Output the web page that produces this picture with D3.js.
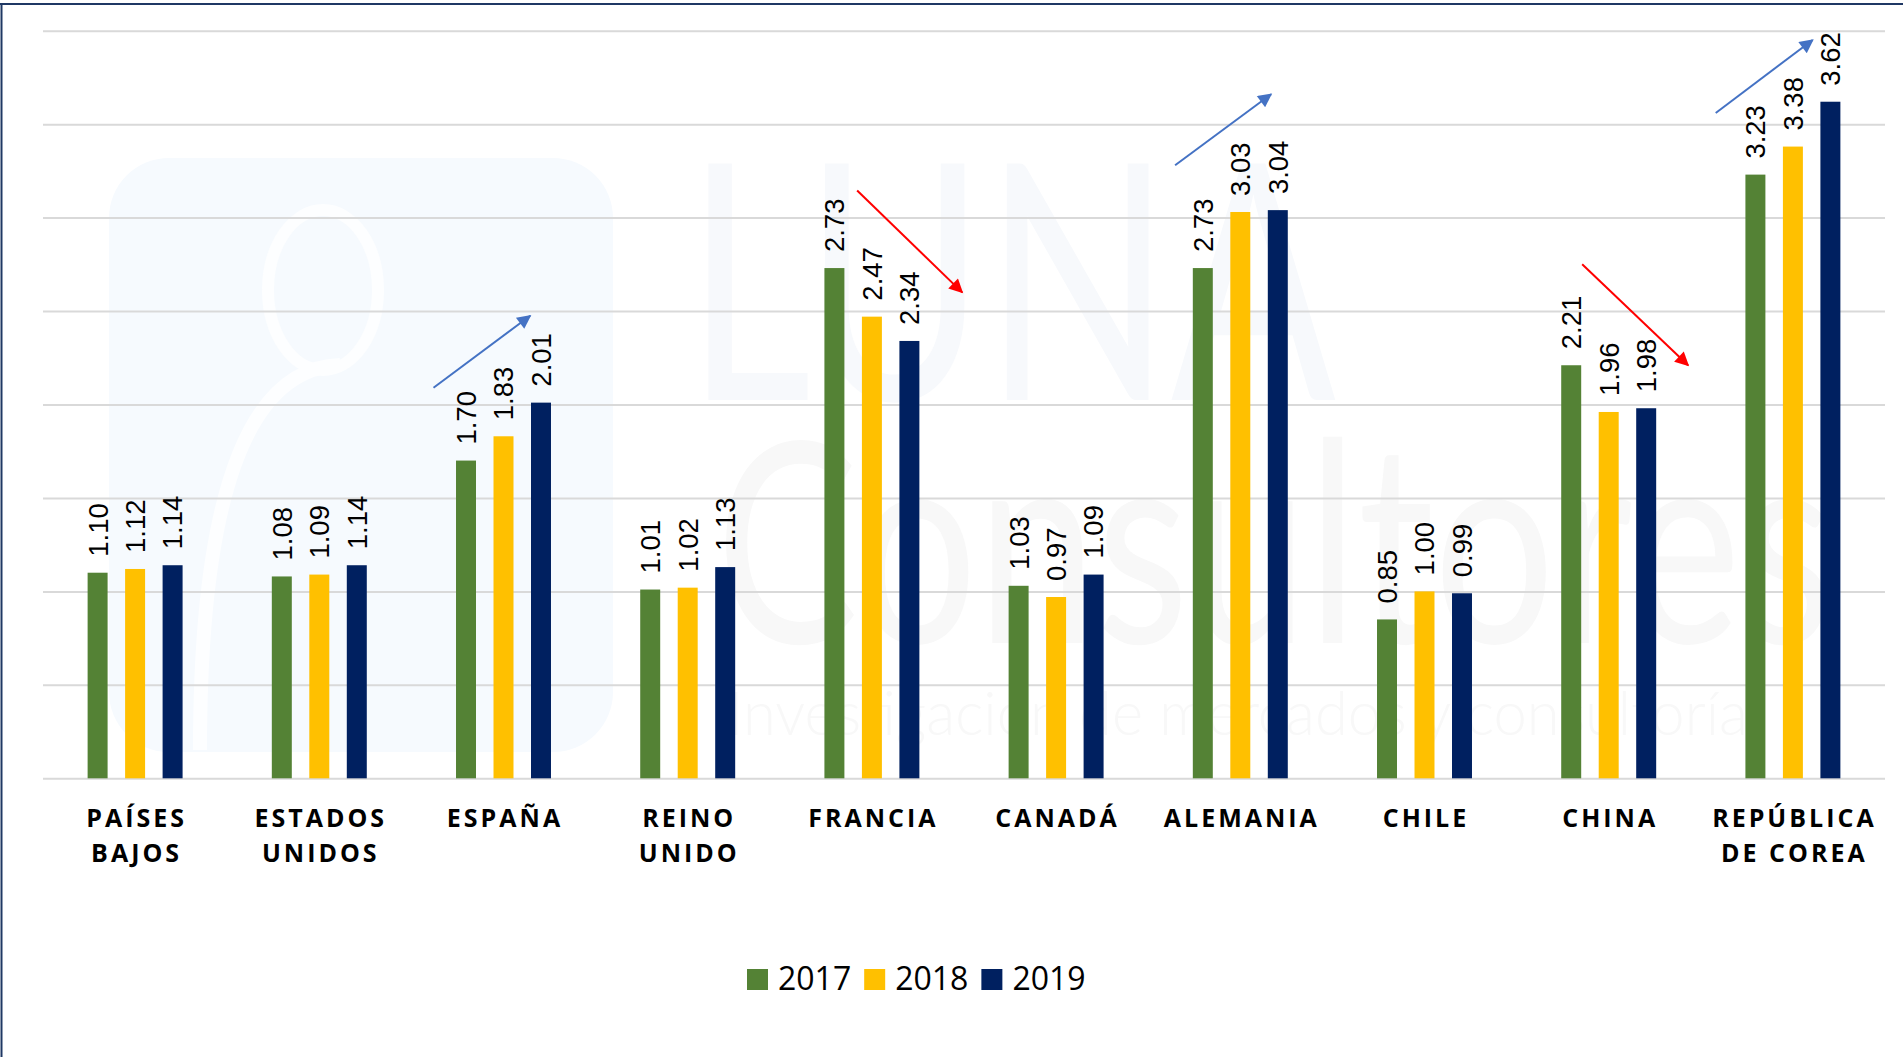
<!DOCTYPE html>
<html>
<head>
<meta charset="utf-8">
<script src="https://cdn.jsdelivr.net/npm/d3@7"></script>
<style>
	html, body { margin: 0; padding: 0; background: #fff; }
	svg { display: block; }
</style>
</head>
<body>
<div id="chart"></div>
<script>
//categories, two lines each
const CATEGORIES = ['PAÍSES BAJOS','ESTADOS UNIDOS','ESPAÑA','REINO UNIDO','FRANCIA','CANADÁ','ALEMANIA','CHILE','CHINA','REPÚBLICA DE COREA'];
const CATEGORY_LINES = [['PAÍSES','BAJOS'],['ESTADOS','UNIDOS'],['ESPAÑA'],['REINO','UNIDO'],['FRANCIA'],['CANADÁ'],['ALEMANIA'],['CHILE'],['CHINA'],['REPÚBLICA','DE COREA']];

//series values
const YEARS = ['2017','2018','2019'];
const VALUES_2017 = [1.10,1.08,1.70,1.01,2.73,1.03,2.73,0.85,2.21,3.23];
const VALUES_2018 = [1.12,1.09,1.83,1.02,2.47,0.97,3.03,1.00,1.96,3.38];
const VALUES_2019 = [1.14,1.14,2.01,1.13,2.34,1.09,3.04,0.99,1.98,3.62];

//gridlines every half unit
const GRID_TICKS = [0,0.5,1,1.5,2,2.5,3,3.5,4];

//trend arrows: category, start/end as band fraction + value
const ARROWS = [
	{cat:'ESPAÑA', f0:0.12, v0:2.09, f1:0.645, v1:2.475, trend:'up'},
	{cat:'FRANCIA', f0:0.42, v0:3.145, f1:0.99, v1:2.60, trend:'down'},
	{cat:'ALEMANIA', f0:0.146, v0:3.28, f1:0.667, v1:3.66, trend:'up'},
	{cat:'CHINA', f0:0.356, v0:2.75, f1:0.931, v1:2.21, trend:'down'},
	{cat:'REPÚBLICA DE COREA', f0:0.081, v0:3.56, f1:0.607, v1:3.95, trend:'up'}
];

const COLORS = {
	'2017': '#548235',
	'2018': '#FFC000',
	'2019': '#002060',
	grid: '#d9d9d9',
	frame: '#1f3864',
	up: '#4472C4',
	down: '#FF0000',
	markBox: '#f6fafe',
	markText: '#f7f9fc',
	markGrey: '#f8f8f8'
};

const W = 1903, H = 1057;
const PLOT = { left: 43, right: 1885, top: 30.7, bottom: 778.3 };

const svg = d3.select('#chart').append('svg')
	.attr('width', W)
	.attr('height', H)
	.attr('viewBox', `0 0 ${W} ${H}`);

//very faint watermark behind the chart
const gMark = svg.append('g').attr('class','watermark');
gMark.append('rect')
	.attr('x',109).attr('y',158).attr('width',504).attr('height',594)
	.attr('rx',60)
	.attr('fill',COLORS.markBox);
gMark.append('ellipse')
	.attr('cx',323).attr('cy',290).attr('rx',55).attr('ry',80)
	.attr('fill','none').attr('stroke','#fdfeff').attr('stroke-width',12);
gMark.append('path')
	.attr('d','M200,750 Q200,370 340,365')
	.attr('fill','none').attr('stroke','#fdfeff').attr('stroke-width',14);
gMark.append('text')
	.attr('x',686).attr('y',400)
	.attr('font-family','Lato, sans-serif').attr('font-weight',400)
	.attr('font-size',330)
	.attr('textLength',650).attr('lengthAdjust','spacingAndGlyphs')
	.attr('fill',COLORS.markText)
	.text('LUNA');
gMark.append('text')
	.attr('x',716).attr('y',643)
	.attr('font-family','Lato, sans-serif').attr('font-weight',400)
	.attr('font-size',280)
	.attr('textLength',1117).attr('lengthAdjust','spacingAndGlyphs')
	.attr('fill',COLORS.markGrey)
	.text('Consultores');
gMark.append('text')
	.attr('x',728).attr('y',735)
	.attr('font-family','Lato, sans-serif').attr('font-weight',300)
	.attr('font-size',62)
	.attr('textLength',1020).attr('lengthAdjust','spacingAndGlyphs')
	.attr('fill',COLORS.markGrey)
	.text('Investigación de mercados y consultoría');

//scales
const x0 = d3.scaleBand()
	.domain(CATEGORIES)
	.range([PLOT.left, PLOT.right]);

const x1 = d3.scaleBand()
	.domain(YEARS)
	.range([0, x0.bandwidth()])
	.paddingInner(0.467)
	.paddingOuter(1.19);

const y = d3.scaleLinear()
	.domain([0,4])
	.range([PLOT.bottom, PLOT.top]);

//gridlines via axis
svg.append('g')
	.attr('class','grid')
	.attr('transform',`translate(${PLOT.left},0)`)
	.call(d3.axisLeft(y).tickValues(GRID_TICKS).tickSize(-(PLOT.right - PLOT.left)).tickFormat(''))
	.call(g => g.select('.domain').remove())
	.call(g => g.selectAll('.tick line').attr('stroke',COLORS.grid).attr('stroke-width',2));

//table for bars
const series = YEARS.map((yr,i) => ({
	year: yr,
	values: [VALUES_2017,VALUES_2018,VALUES_2019][i]
}));
const rows = CATEGORIES.map((c,ci) => ({
	cat: c,
	bars: series.map(s => ({ year: s.year, cat: c, val: s.values[ci] }))
}));

const gGroups = svg.append('g').attr('class','bars')
	.selectAll('g')
	.data(rows)
	.join('g')
	.attr('transform', d => `translate(${x0(d.cat)},0)`);

gGroups.selectAll('rect')
	.data(d => d.bars)
	.join('rect')
	.attr('x', d => x1(d.year))
	.attr('y', d => y(d.val))
	.attr('width', x1.bandwidth())
	.attr('height', d => y(0) - y(d.val))
	.attr('fill', d => COLORS[d.year]);

//rotated data labels
gGroups.selectAll('text.val')
	.data(d => d.bars)
	.join('text')
	.attr('class','val')
	.attr('transform', d => `translate(${x1(d.year) + x1.bandwidth()/2},${y(d.val) - 16}) rotate(-90)`)
	.attr('dy','0.36em')
	.attr('font-family','"Liberation Sans", Arial, sans-serif')
	.attr('font-size',27.5)
	.attr('fill','#000')
	.text(d => d3.format('.2f')(d.val));

//category labels
const gCats = svg.append('g').attr('class','cats')
	.selectAll('text')
	.data(CATEGORIES)
	.join('text')
	.attr('y', 826.5)
	.attr('text-anchor','middle')
	.attr('font-family','"Open Sans", sans-serif')
	.attr('font-weight',700)
	.attr('font-size',25)
	.attr('letter-spacing',3)
	.attr('fill','#000');

gCats.selectAll('tspan')
	.data((d,i) => CATEGORY_LINES[i].map(l => ({ l, x: x0(d) + x0.bandwidth()/2 + 1.5 })))
	.join('tspan')
	.attr('x', d => d.x)
	.attr('dy', (d,i) => i ? 35.3 : 0)
	.text(d => d.l);

//arrows
const defs = svg.append('defs');
['up','down'].forEach(k => {
	defs.append('marker')
		.attr('id',`head-${k}`)
		.attr('viewBox','0 0 10 10')
		.attr('refX',9).attr('refY',5)
		.attr('markerWidth',8.5).attr('markerHeight',7)
		.attr('markerUnits','strokeWidth')
		.attr('orient','auto')
		.append('path')
		.attr('d','M0,0 L10,5 L0,10 Z')
		.attr('fill',COLORS[k]);
});

svg.append('g').attr('class','arrows')
	.selectAll('line')
	.data(ARROWS)
	.join('line')
	.attr('x1', d => x0(d.cat) + d.f0 * x0.bandwidth())
	.attr('y1', d => y(d.v0))
	.attr('x2', d => x0(d.cat) + d.f1 * x0.bandwidth())
	.attr('y2', d => y(d.v1))
	.attr('stroke', d => COLORS[d.trend])
	.attr('stroke-width',2)
	.attr('marker-end', d => `url(#head-${d.trend})`);

//legend
const gLegend = svg.append('g').attr('class','legend')
	.attr('transform','translate(747,969)');
let lx = 0;
YEARS.forEach(yr => {
	const item = gLegend.append('g').attr('transform',`translate(${lx},0)`);
	item.append('rect')
		.attr('width',21).attr('height',21)
		.attr('fill',COLORS[yr]);
	const t = item.append('text')
		.attr('x',31).attr('y',21)
		.attr('font-family','"Open Sans", sans-serif')
		.attr('font-size',32)
		.attr('fill','#000')
		.text(yr);
	lx += 31 + t.node().getComputedTextLength() + 13;
});

//frame edges (left and top)
svg.append('line')
	.attr('x1',0).attr('x2',W).attr('y1',4).attr('y2',4)
	.attr('stroke',COLORS.frame).attr('stroke-width',2);
svg.append('line')
	.attr('x1',1.5).attr('x2',1.5).attr('y1',3).attr('y2',H)
	.attr('stroke',COLORS.frame).attr('stroke-width',2);
</script>
</body>
</html>
